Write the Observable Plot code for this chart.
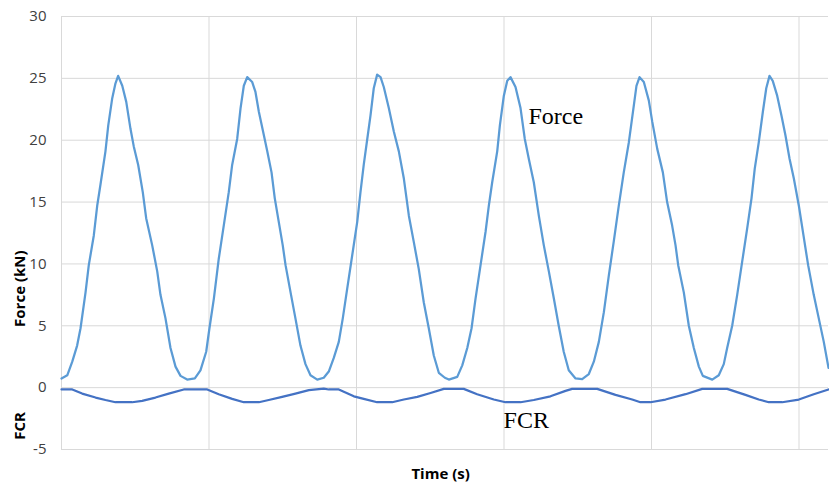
<!DOCTYPE html>
<html>
<head>
<meta charset="utf-8">
<script src="https://cdn.jsdelivr.net/npm/d3@7"></script>
<script src="https://cdn.jsdelivr.net/npm/@observablehq/plot@0.6"></script>
<style>
  html, body { margin: 0; padding: 0; background: #fff; }
  #chart svg { display: block; }
</style>
</head>
<body>
<div id="chart"></div>
<script>
// Force (kN) series
const forceTime = [
  0, 0.039, 0.073, 0.106, 0.129, 0.163, 0.185, 0.219, 0.242, 0.264, 0.298, 0.317, 0.344, 0.366, 0.384, 0.412, 0.439, 0.468, 0.490, 0.520, 0.551, 0.574, 0.615, 0.649, 0.671, 0.705, 0.739, 0.773, 0.807, 0.852, 0.904, 0.942, 0.981,
  1.003, 1.033, 1.066, 1.100, 1.134, 1.157, 1.191, 1.214, 1.236, 1.259, 1.293, 1.315, 1.338, 1.372, 1.395, 1.424, 1.446, 1.473, 1.500, 1.519, 1.553, 1.586, 1.620, 1.654, 1.688, 1.734, 1.778, 1.812, 1.846, 1.880, 1.907, 1.937, 1.971,
  2.005, 2.027, 2.049, 2.073, 2.095, 2.117, 2.140, 2.163, 2.185, 2.219, 2.253, 2.287, 2.321, 2.355, 2.388, 2.422, 2.456, 2.490, 2.524, 2.558, 2.599, 2.626, 2.683, 2.717, 2.751, 2.780, 2.807, 2.841, 2.875, 2.897, 2.920, 2.954, 2.972, 2.999,
  3.022, 3.044, 3.078, 3.112, 3.141, 3.168, 3.202, 3.236, 3.270, 3.304, 3.338, 3.371, 3.405, 3.439, 3.485, 3.530, 3.575, 3.609, 3.643, 3.677, 3.711, 3.744, 3.778, 3.812, 3.846, 3.880, 3.898, 3.919, 3.948, 3.982,
  4.005, 4.039, 4.077, 4.106, 4.140, 4.163, 4.181, 4.219, 4.253, 4.287, 4.321, 4.348, 4.412, 4.456, 4.490, 4.513, 4.547, 4.581, 4.615, 4.649, 4.678, 4.700, 4.727, 4.755, 4.778, 4.800, 4.822, 4.852, 4.881, 4.908, 4.936, 4.965, 4.999,
  5.033, 5.062, 5.100, 5.134, 5.168, 5.2
];
const forceValues = [
  0.74, 1.0, 2.1, 3.4, 4.8, 7.7, 9.9, 12.3, 14.7, 16.4, 19.1, 21.2, 23.4, 24.6, 25.2, 24.4, 23.1, 20.9, 19.5, 18.0, 15.8, 13.7, 11.5, 9.4, 7.5, 5.6, 3.2, 1.7, 0.95, 0.65, 0.74, 1.4, 2.9,
  4.8, 7.2, 10.4, 13.1, 15.8, 18.0, 20.1, 22.6, 24.4, 25.1, 24.7, 23.9, 22.3, 20.4, 19.1, 17.4, 15.3, 13.4, 11.5, 9.9, 7.7, 5.6, 3.4, 1.9, 1.0, 0.65, 0.8, 1.3, 2.4, 3.7, 5.6, 8.0, 10.7,
  13.4, 15.8, 18.0, 20.1, 22.0, 24.2, 25.3, 25.1, 24.3, 22.6, 20.7, 19.1, 16.9, 13.9, 11.8, 9.6, 6.9, 4.8, 2.6, 1.2, 0.8, 0.65, 0.87, 1.8, 3.2, 4.8, 7.2, 9.9, 12.6, 14.7, 16.6, 19.1, 21.2, 23.6,
  24.8, 25.1, 24.3, 22.6, 20.1, 18.5, 16.6, 13.9, 11.5, 9.4, 7.2, 5.0, 2.9, 1.4, 0.74, 0.68, 1.1, 2.1, 3.7, 6.1, 9.1, 11.8, 14.7, 17.4, 19.8, 22.8, 24.4, 25.1, 24.7, 23.2,
  21.5, 19.3, 17.4, 15.0, 13.1, 11.5, 9.9, 7.7, 5.0, 3.2, 1.7, 0.95, 0.65, 1.0, 1.9, 3.2, 5.0, 7.5, 10.2, 12.9, 15.3, 17.7, 19.8, 22.3, 24.2, 25.2, 24.8, 23.6, 22.0, 20.4, 18.5, 16.9, 14.7,
  12.1, 9.9, 7.5, 5.6, 3.7, 1.6
];

// FCR series
const fcrTime = [
  0, 0.073, 0.140, 0.231, 0.298, 0.366, 0.479, 0.547, 0.637, 0.727, 0.829, 0.988,
  1.066, 1.157, 1.236, 1.338, 1.405, 1.496, 1.586, 1.677, 1.778, 1.812, 1.880, 1.982,
  2.049, 2.140, 2.242, 2.321, 2.412, 2.502, 2.592, 2.727, 2.818, 2.931,
  3.010, 3.112, 3.202, 3.315, 3.417, 3.462, 3.632, 3.756, 3.869, 3.925, 3.993,
  4.095, 4.231, 4.344, 4.513, 4.637, 4.727, 4.795, 4.886, 4.999, 5.100, 5.2
];
const fcrValues = [
  -0.15, -0.15, -0.48, -0.8, -1.0, -1.18, -1.18, -1.07, -0.8, -0.48, -0.15, -0.15,
  -0.53, -0.91, -1.18, -1.18, -1.0, -0.75, -0.48, -0.2, -0.08, -0.15, -0.15, -0.7,
  -0.91, -1.18, -1.18, -0.96, -0.75, -0.43, -0.1, -0.1, -0.53, -0.96,
  -1.18, -1.18, -1.0, -0.7, -0.26, -0.1, -0.1, -0.59, -0.96, -1.18, -1.18,
  -0.96, -0.53, -0.1, -0.1, -0.59, -0.96, -1.18, -1.18, -0.96, -0.53, -0.15
];

const yTicks = [-5, 0, 5, 10, 15, 20, 25, 30];
const xGrid = [0, 1, 2, 3, 4, 5];
const xDomain = [0, 5.2];
const yDomain = [-5, 30];

const forceData = forceTime.map((t, i) => ({t, v: forceValues[i]}));
const fcrData = fcrTime.map((t, i) => ({t, v: fcrValues[i]}));

const plot = Plot.plot({
  width: 829,
  height: 489,
  marginLeft: 61,
  marginRight: 1,
  marginTop: 16,
  marginBottom: 40,
  style: {fontFamily: "'Open Sans', sans-serif", fontSize: "15px", background: "#fff", color: "#404040"},
  x: {domain: xDomain, axis: null},
  y: {domain: yDomain, axis: null},
  marks: [
    Plot.gridY(yTicks, {stroke: "#d9d9d9", strokeOpacity: 1, strokeWidth: 1}),
    Plot.gridX(xGrid, {stroke: "#d9d9d9", strokeOpacity: 1, strokeWidth: 1}),
    Plot.axisY(yTicks, {tickSize: 0, tickPadding: 15, tickFormat: d => String(d), label: null, fill: "#404040", fontSize: 15}),
    Plot.line(fcrData, {x: "t", y: "v", stroke: "#4472C4", strokeWidth: 2.25}),
    Plot.line(forceData, {x: "t", y: "v", stroke: "#5B9BD5", strokeWidth: 2.25}),
    Plot.text(["Force"], {x: 3.166, y: 21.9, text: d => d, textAnchor: "start", fontFamily: "'Liberation Serif', serif", fontSize: 24, fill: "#000"}),
    Plot.text(["FCR"], {x: 2.997, y: -2.66, text: d => d, textAnchor: "start", fontFamily: "'Liberation Serif', serif", fontSize: 24, fill: "#000"}),
    Plot.text(["Force (kN)"], {y: 8.0, frameAnchor: "left", textAnchor: "middle", dx: -41, rotate: -90, text: d => d, fontWeight: "bold", fontSize: 15, fill: "#000"}),
    Plot.text(["FCR"], {y: -3.1, frameAnchor: "left", textAnchor: "middle", dx: -41, rotate: -90, text: d => d, fontWeight: "bold", fontSize: 15, fill: "#000"}),
    Plot.text(["Time (s)"], {x: 2.57, frameAnchor: "bottom", dy: 29, text: d => d, fontWeight: "bold", fontSize: 15, fill: "#000"})
  ]
});
document.getElementById("chart").appendChild(plot);
</script>
</body>
</html>
